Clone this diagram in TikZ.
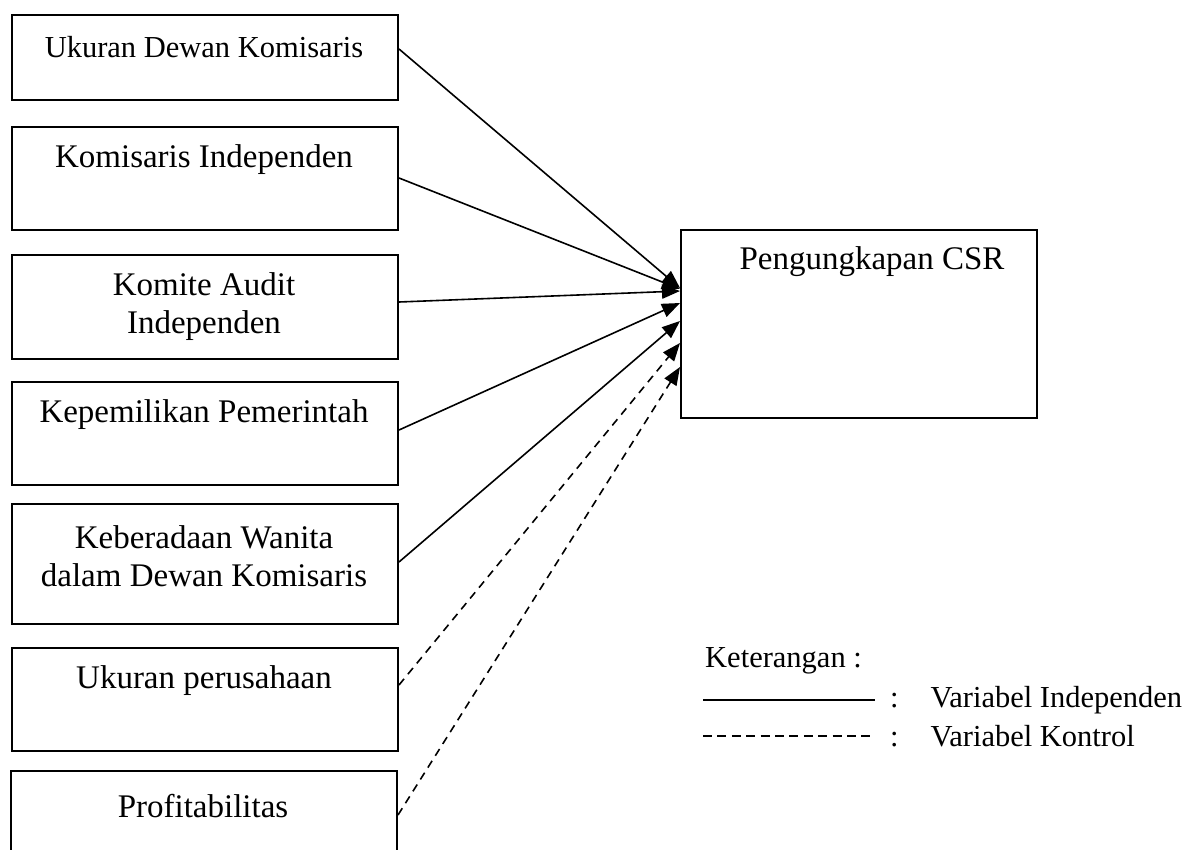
\documentclass[tikz,border=0pt]{standalone}
\usepackage{fontspec}
\setmainfont{Liberation Serif}
\usetikzlibrary{arrows.meta,calc}
\begin{document}
\begin{tikzpicture}[x=1pt,y=-1pt,
  box/.style={draw,line width=2pt,anchor=north west,inner sep=0pt,minimum width=386pt},
  lbl/.style={inner sep=0pt,align=center,font=\fontsize{33}{38}\selectfont},
  leg/.style={inner sep=0pt,anchor=west,font=\fontsize{30.5}{34}\selectfont},
  arr/.style={line width=1.6pt,-{Triangle[length=18pt,width=14pt]}},
  darr/.style={arr,dash pattern=on 8pt off 6pt},
]
\useasboundingbox (0,0) rectangle (1191,849);
\clip (0,0) rectangle (1191,849);
\fill[white] (0,0) rectangle (1191,849);

% left boxes
\node[box,minimum height=85pt]  (b1) at (11,14)  {};
\node[box,minimum height=103pt] (b2) at (11,126) {};
\node[box,minimum height=104pt] (b3) at (11,254) {};
\node[box,minimum height=103pt] (b4) at (11,381) {};
\node[box,minimum height=120pt] (b5) at (11,503) {};
\node[box,minimum height=103pt] (b6) at (11,647) {};
\node[box,minimum height=100pt] (b7) at (10,770) {};

\node[lbl,font=\fontsize{30.5}{34}\selectfont] (t1) at (204,47) {Ukuran Dewan Komisaris};
\node[lbl] (t2) at (204,160) {Komisaris Independen};
\node[lbl] (t3) at (204,307) {Komite Audit\\Independen};
\node[lbl] (t4) at (204,415) {Kepemilikan Pemerintah};
\node[lbl] (t5) at (204,556) {Keberadaan Wanita\\dalam Dewan Komisaris};
\node[lbl] (t6) at (204,681) {Ukuran perusahaan};
\node[lbl] (t7) at (203,806) {Profitabilitas};

% dependent box
\node[draw,line width=2pt,anchor=north west,inner sep=0pt,minimum width=356pt,minimum height=188pt] (csr) at (680,229) {};
\node[lbl] (tc) at (872,262) {Pengungkapan CSR};

% connectors
\draw[arr]  ($(b1.north east)+(0,35)$) -- ($(csr.north west)+(0,59)$);
\draw[arr]  ($(b2.north east)+(0,52)$) -- ($(csr.north west)+(0,60)$);
\draw[arr]  ($(b3.north east)+(0,48)$) -- ($(csr.north west)+(0,62)$);
\draw[arr]  ($(b4.north east)+(0,49)$) -- ($(csr.north west)+(0,74)$);
\draw[arr]  ($(b5.north east)+(0,59)$) -- ($(csr.north west)+(0,92)$);
\draw[darr] ($(b6.north east)+(0,38)$) -- ($(csr.north west)+(0,114)$);
\draw[darr] ($(b7.north east)+(0,45)$) -- ($(csr.north west)+(0,138)$);

% legend
\node[leg] (k) at (705,661) {Keterangan :};
\coordinate (ls1) at (703,700);
\coordinate (le1) at (875,700);
\coordinate (ls2) at (703,736);
\coordinate (le2) at (875,736);
\draw[line width=1.6pt] (ls1) -- (le1);
\draw[line width=1.4pt,dash pattern=on 9pt off 5.4pt] (ls2) -- (le2);
\node[leg] (l1) at (890,700) {:\hspace{32pt}Variabel Independen};
\node[leg] (l2) at (890,736) {:\hspace{32pt}Variabel Kontrol};
\end{tikzpicture}
\end{document}
